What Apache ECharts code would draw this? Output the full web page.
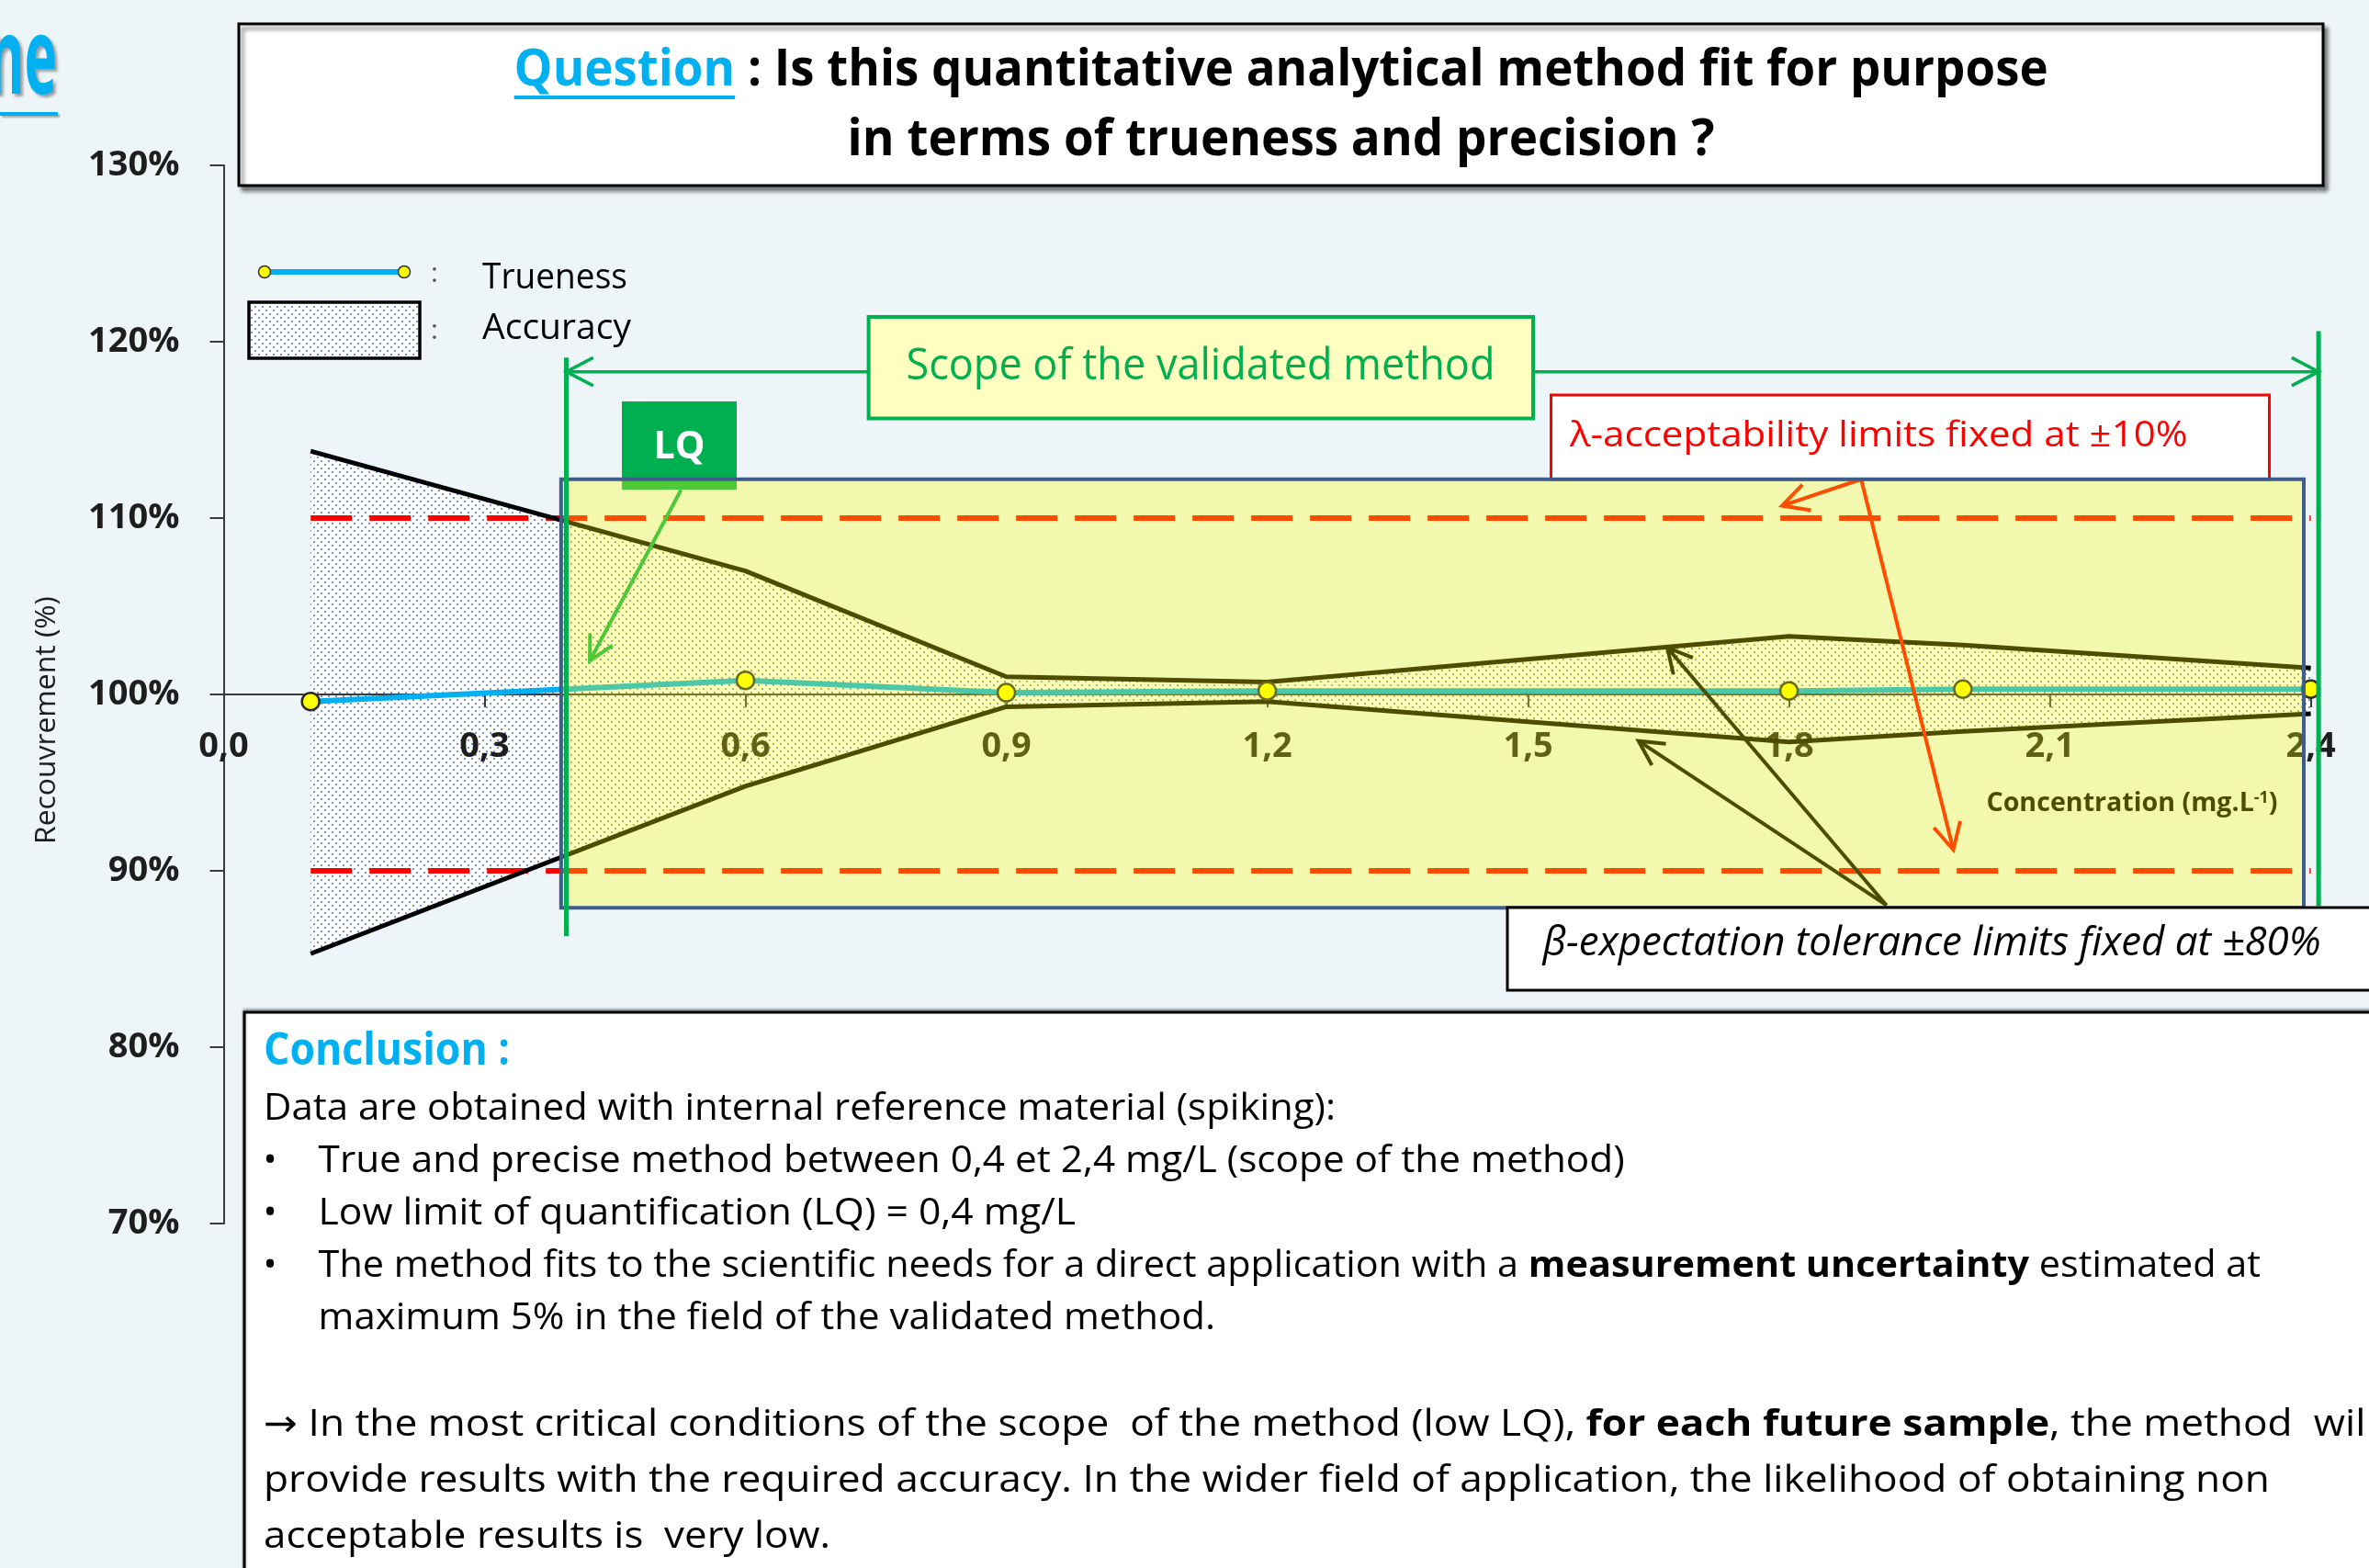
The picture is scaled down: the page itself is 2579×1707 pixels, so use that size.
<!DOCTYPE html>
<html>
<head>
<meta charset="utf-8">
<title>Accuracy profile</title>
<script src="https://cdn.jsdelivr.net/npm/echarts@6.0.0/dist/echarts.min.js"></script>
<style>
  html, body { margin: 0; padding: 0; background: #edf5f9; }
  #main { width: 2579px; height: 1707px; }
</style>
</head>
<body>
<div id="main"></div>
<script>
// concentration levels (mg/L)
const conc = [0.1, 0.6, 0.9, 1.2, 1.8, 2.0, 2.4];
// recovery (%)
const trueness = [99.6, 100.8, 100.1, 100.2, 100.2, 100.3, 100.3];
const upperTol = [113.8, 107.0, 101.0, 100.7, 103.3, 102.8, 101.5];
const lowerTol = [85.3, 94.8, 99.3, 99.6, 97.3, 97.9, 98.9];
// lambda acceptability limits
const lambdaLimits = [110, 90];
// axes
const xRange = [0, 2.4];
const xStep = 0.3;
const yRange = [70, 130];
const yStep = 10;
const xAxisLevel = 100; // the concentration axis is drawn at 100 %

// annotations in data units [concentration, %]
const scopeArea = { x: [0.388, 2.392], y: [87.9, 112.2] };
const scopeEdges = [{ x: 0.394, y: [86.3, 119.1] }, { x: 2.409, y: [88.0, 120.6] }];
const scopeArrowLevel = 118.3;
const lqArrow = [[0.526, 111.6], [0.421, 101.9]];
const lambdaArrows = [[[1.883, 112.2], [1.792, 110.7]], [[1.883, 112.2], [1.989, 91.2]]];
const betaArrows = [[[1.912, 88.05], [1.660, 102.66]], [[1.912, 88.05], [1.627, 97.36]]];

const FAMILY = '"Open Sans", "DejaVu Sans", sans-serif';
const CYAN = '#00b0f0';
const GREEN = '#00b050';

const pts = vals => conc.map((c, i) => [c, vals[i]]);

// grid box in the slide
const GRID = { left: 243.5, right: 63.4, top: 180, bottom: 375 };
const gridH = 1707 - GRID.top - GRID.bottom;
// shift the x axis up from the bottom of the grid to the 100 % level
const xAxisOffset = -gridH * (xAxisLevel - yRange[0]) / (yRange[1] - yRange[0]);

// dotted fill used for the accuracy band
const dots = (function () {
  const c = document.createElement('canvas');
  c.width = 8; c.height = 8;
  const g = c.getContext('2d');
  g.fillStyle = '#ffffff';
  g.fillRect(0, 0, 8, 8);
  g.fillStyle = '#7396d6';
  g.fillRect(1, 1, 2, 2);
  g.fillRect(5, 5, 2, 2);
  return { image: c, repeat: 'repeat' };
})();

const chart = echarts.init(document.getElementById('main'));

const axisColor = '#3a3a3a';
chart.setOption({
  animation: false,
  backgroundColor: '#edf5f9',
  grid: Object.assign({ containLabel: false, outerBoundsMode: 'none' }, GRID),
  xAxis: {
    type: 'value', min: xRange[0], max: xRange[1], interval: xStep, z: 2,
    position: 'bottom', offset: xAxisOffset,
    axisLine: { onZero: false, lineStyle: { color: axisColor, width: 2 } },
    axisTick: { show: true, length: 14, lineStyle: { color: axisColor, width: 2 } },
    splitLine: { show: false },
    axisLabel: {
      margin: 38, fontSize: 38, fontWeight: 'bold', color: '#1e1e1e', fontFamily: FAMILY,
      formatter: v => v.toFixed(1).replace('.', ',')
    }
  },
  yAxis: {
    type: 'value', min: yRange[0], max: yRange[1], interval: yStep, z: 2,
    axisLine: { show: true, onZero: false, lineStyle: { color: axisColor, width: 2 } },
    axisTick: { show: true, length: 15, lineStyle: { color: axisColor, width: 2 } },
    splitLine: { show: false },
    axisLabel: {
      margin: 48, fontSize: 38, fontWeight: 'bold', color: '#1e1e1e', fontFamily: FAMILY,
      formatter: v => Math.round(v) + '%'
    }
  },
  series: [
    {
      // accuracy band between the tolerance limits
      type: 'custom', name: 'Accuracy', z: 1, silent: true,
      data: [[conc[0], lowerTol[0]]],
      renderItem: (params, api) => {
        const top = conc.map((c, i) => api.coord([c, upperTol[i]]));
        const bot = conc.map((c, i) => api.coord([c, lowerTol[i]])).reverse();
        return { type: 'polygon', shape: { points: top.concat(bot) }, style: { fill: dots } };
      }
    },
    ...lambdaLimits.map(l => ({
      type: 'line', z: 3, silent: true, symbol: 'none',
      data: [[conc[0], l], [conc[conc.length - 1], l]],
      lineStyle: { color: '#ff0000', width: 6, type: [45, 19] }
    })),
    {
      type: 'line', name: 'Upper', z: 4, silent: true, symbol: 'none',
      data: pts(upperTol), lineStyle: { color: '#000', width: 5 }
    },
    {
      type: 'line', name: 'Lower', z: 4, silent: true, symbol: 'none',
      data: pts(lowerTol), lineStyle: { color: '#000', width: 5 }
    },
    {
      type: 'line', name: 'Trueness', z: 5, silent: true,
      symbol: 'circle', symbolSize: 19,
      data: pts(trueness),
      lineStyle: { color: CYAN, width: 6 },
      itemStyle: { color: '#ffff00', borderColor: '#2b2b2b', borderWidth: 2.5 }
    }
  ]
});

// ---- text helpers: text is squeezed to the width it has in the slide
const meas = document.createElement('canvas').getContext('2d');
function run(text, size, opt) {
  return Object.assign({ text, size, weight: 'normal', style: 'normal', color: '#000' }, opt || {});
}
function natWidth(runs) {
  return runs.reduce((w, r) => {
    meas.font = `${r.style} ${r.weight} ${r.size}px ${FAMILY}`;
    return w + meas.measureText(r.text).width;
  }, 0);
}
function label(runs, x, y, opt) {
  opt = opt || {};
  const sx = opt.width ? opt.width / natWidth(runs) : (opt.sx || 1);
  const rich = {};
  const text = runs.map((r, i) => {
    rich['r' + i] = {
      fontSize: r.size, fontWeight: r.weight, fontStyle: r.style, fontFamily: FAMILY,
      fill: r.color, verticalAlign: r.va || 'middle'
    };
    return `{r${i}|${r.text}}`;
  }).join('');
  const align = opt.align || 'left';
  const el = {
    type: 'text', x, y, scaleX: sx, rotation: opt.rotation || 0,
    z: opt.z == null ? 21 : opt.z, silent: true,
    style: { text, rich, align, textAlign: align, verticalAlign: 'middle', textVerticalAlign: 'middle' }
  };
  if (opt.shadow) {
    Object.assign(el.style, { textShadowColor: 'rgba(0,0,0,0.35)', textShadowBlur: 3, textShadowOffsetX: 3, textShadowOffsetY: 3 });
  }
  return el;
}
function arrow(a, b, color, lw, head, z, both) {
  const out = [{ type: 'line', shape: { x1: a[0], y1: a[1], x2: b[0], y2: b[1] }, style: { stroke: color, lineWidth: lw }, z, silent: true }];
  const heads = both ? [[a, b], [b, a]] : [[a, b]];
  heads.forEach(([p, q]) => {
    const ang = Math.atan2(q[1] - p[1], q[0] - p[0]);
    const h1 = [q[0] - head * Math.cos(ang - 0.48), q[1] - head * Math.sin(ang - 0.48)];
    const h2 = [q[0] - head * Math.cos(ang + 0.48), q[1] - head * Math.sin(ang + 0.48)];
    out.push({ type: 'polyline', shape: { points: [h1, q, h2] }, style: { stroke: color, lineWidth: lw, fill: null }, z, silent: true });
  });
  return out;
}

function buildGraphic() {
  const D = (x, v) => chart.convertToPixel({ gridIndex: 0 }, [x, v]);
  const g = [];

  // slide heading fragment, top left
  g.push(label([run('ne', 114, { weight: 'bold', color: CYAN })], 62, 70, { width: 75, align: 'right', shadow: true, z: 20 }));
  g.push({ type: 'rect', shape: { x: 0, y: 122, width: 63, height: 4 }, style: { fill: CYAN, shadowColor: 'rgba(0,0,0,0.3)', shadowOffsetX: 2, shadowOffsetY: 2, shadowBlur: 2 }, z: 20, silent: true });

  // question box
  g.push({ type: 'rect', shape: { x: 260, y: 26, width: 2269, height: 176 }, style: { fill: '#fff', stroke: '#000', lineWidth: 3, shadowColor: 'rgba(0,0,0,0.45)', shadowOffsetX: 4, shadowOffsetY: 5, shadowBlur: 4 }, z: 20, silent: true });
  const q1 = [run('Question', 56, { weight: 'bold', color: CYAN }), run(' : Is this quantitative analytical method fit for purpose', 56, { weight: 'bold' })];
  const sq = 1670 / natWidth(q1);
  g.push(label(q1, 559.6, 77, { sx: sq }));
  g.push({ type: 'rect', shape: { x: 559.6, y: 104, width: natWidth([q1[0]]) * sq, height: 4 }, style: { fill: CYAN }, z: 21, silent: true });
  g.push(label([run('in terms of trueness and precision ?', 56, { weight: 'bold' })], 922.6, 153, { width: 944 }));

  // legend
  g.push({ type: 'line', shape: { x1: 288, y1: 296, x2: 440, y2: 296 }, style: { stroke: CYAN, lineWidth: 6 }, z: 20, silent: true });
  [288, 440].forEach(x => g.push({ type: 'circle', shape: { cx: x, cy: 296, r: 6.5 }, style: { fill: '#ffff00', stroke: '#333', lineWidth: 1.5 }, z: 21, silent: true }));
  g.push({ type: 'rect', shape: { x: 271, y: 329, width: 186, height: 61 }, style: { fill: dots, stroke: '#000', lineWidth: 3.5 }, z: 20, silent: true });
  g.push(label([run(':', 30, { color: '#555' })], 473, 298, { align: 'center' }));
  g.push(label([run(':', 30, { color: '#555' })], 473, 360, { align: 'center' }));
  g.push(label([run('Trueness', 39)], 525, 302.5, { width: 158 }));
  g.push(label([run('Accuracy', 39)], 525, 358.3, { width: 162 }));

  // y axis title
  g.push(label([run('Recouvrement (%)', 31, { color: '#1e1e1e' })], 51, 784, { width: 270, align: 'center', rotation: Math.PI / 2 }));

  // --- items that sit under the yellow scope overlay
  g.push({ type: 'rect', shape: { x: 677, y: 437, width: 125, height: 96 }, style: { fill: GREEN }, z: 6, silent: true });
  g.push(label([run('LQ', 42, { weight: 'bold', color: '#fff' })], 739.5, 487, { width: 56, align: 'center', z: 7 }));
  g.push(...arrow(D(lqArrow[0][0], lqArrow[0][1]), D(lqArrow[1][0], lqArrow[1][1]), GREEN, 4, 30, 6));
  lambdaArrows.forEach(([p, q]) => g.push(...arrow(D(p[0], p[1]), D(q[0], q[1]), '#ff0000', 4, 32, 6)));
  betaArrows.forEach(([p, q]) => g.push(...arrow(D(p[0], p[1]), D(q[0], q[1]), '#000000', 4, 30, 6)));
  g.push(label([
    run('Concentration (mg.L', 29, { weight: 'bold' }),
    run('-1', 18, { weight: 'bold', va: 'top' }),
    run(')', 29, { weight: 'bold' })
  ], 2162.4, 874.5, { width: 317, z: 6 }));

  // yellow scope overlay + frame
  const a = D(scopeArea.x[0], scopeArea.y[1]);
  const b = D(scopeArea.x[1], scopeArea.y[0]);
  const box = { x: a[0], y: a[1], width: b[0] - a[0], height: b[1] - a[1] };
  g.push({ type: 'rect', shape: box, style: { fill: 'rgba(255,255,0,0.3)' }, z: 8, silent: true });
  g.push({ type: 'rect', shape: box, style: { fill: null, stroke: '#3e5c8c', lineWidth: 4 }, z: 9, silent: true });

  // scope edges and double arrow
  scopeEdges.forEach(e => {
    const p = D(e.x, e.y[0]), q = D(e.x, e.y[1]);
    g.push({ type: 'line', shape: { x1: p[0], y1: p[1], x2: q[0], y2: q[1] }, style: { stroke: GREEN, lineWidth: 5 }, z: 12, silent: true });
  });
  g.push(...arrow(D(scopeEdges[0].x, scopeArrowLevel), D(scopeEdges[1].x, scopeArrowLevel), GREEN, 3.5, 33, 11, true));
  g.push({ type: 'rect', shape: { x: 945.6, y: 345, width: 723.4, height: 110.5 }, style: { fill: '#ffffc0', stroke: GREEN, lineWidth: 4 }, z: 13, silent: true });
  g.push(label([run('Scope of the validated method', 47, { color: GREEN })], 1307, 400, { width: 641, align: 'center', z: 14 }));

  // lambda label
  g.push({ type: 'rect', shape: { x: 1688.5, y: 430, width: 782, height: 92 }, style: { fill: '#fff', stroke: '#ff0000', lineWidth: 3 }, z: 7, silent: true });
  g.push(label([run('\u03bb-acceptability limits fixed at \u00b110%', 39, { color: '#ff0000' })], 1709, 474.7, { width: 672.6, z: 7 }));

  // beta label
  g.push({ type: 'rect', shape: { x: 1641, y: 988, width: 1000, height: 90 }, style: { fill: '#fff', stroke: '#000', lineWidth: 3 }, z: 20, silent: true });
  g.push(label([run('\u03b2-expectation tolerance limits fixed at \u00b180%', 43, { style: 'italic' })], 1679.6, 1028, { width: 847 }));

  // conclusion box
  g.push({ type: 'rect', shape: { x: 266, y: 1102, width: 2400, height: 700 }, style: { fill: '#fff', stroke: '#000', lineWidth: 3, shadowColor: 'rgba(0,0,0,0.35)', shadowOffsetY: -2, shadowBlur: 3 }, z: 20, silent: true });
  const fs = 40;
  g.push(label([run('Conclusion :', 48, { weight: 'bold', color: CYAN })], 287, 1145, { width: 268 }));
  g.push(label([run('Data are obtained with internal reference material (spiking):', fs)], 287, 1208, { width: 1167 }));
  [1265, 1322, 1379].forEach(y => g.push(label([run('\u2022', fs)], 294, y, { align: 'center' })));
  g.push(label([run('True and precise method between 0,4 et 2,4 mg/L (scope of the method)', fs)], 346.6, 1265, { width: 1422 }));
  g.push(label([run('Low limit of quantification (LQ) = 0,4 mg/L', fs)], 346.6, 1322, { width: 824.4 }));
  g.push(label([
    run('The method fits to the scientific needs for a direct application with a ', fs),
    run('measurement uncertainty', fs, { weight: 'bold' }),
    run(' estimated at', fs)
  ], 346.6, 1379, { width: 2114.4 }));
  g.push(label([run('maximum 5% in the field of the validated method.', fs)], 346.6, 1436, { width: 976.4 }));
  const prov = [run('provide results with the required accuracy. In the wider field of application, the likelihood of obtaining non', fs)];
  const sp = 2184 / natWidth(prov);
  g.push(label([
    run('\u2192 In the most critical conditions of the scope  of the method (low LQ), ', fs),
    run('for each future sample', fs, { weight: 'bold' }),
    run(', the method  will', fs)
  ], 287, 1552, { sx: sp }));
  g.push(label(prov, 287, 1613, { sx: sp }));
  g.push(label([run('acceptable results is  very low.', fs)], 287, 1674, { width: 617 }));

  return g;
}

chart.setOption({ graphic: { elements: buildGraphic() } });
</script>
</body>
</html>
